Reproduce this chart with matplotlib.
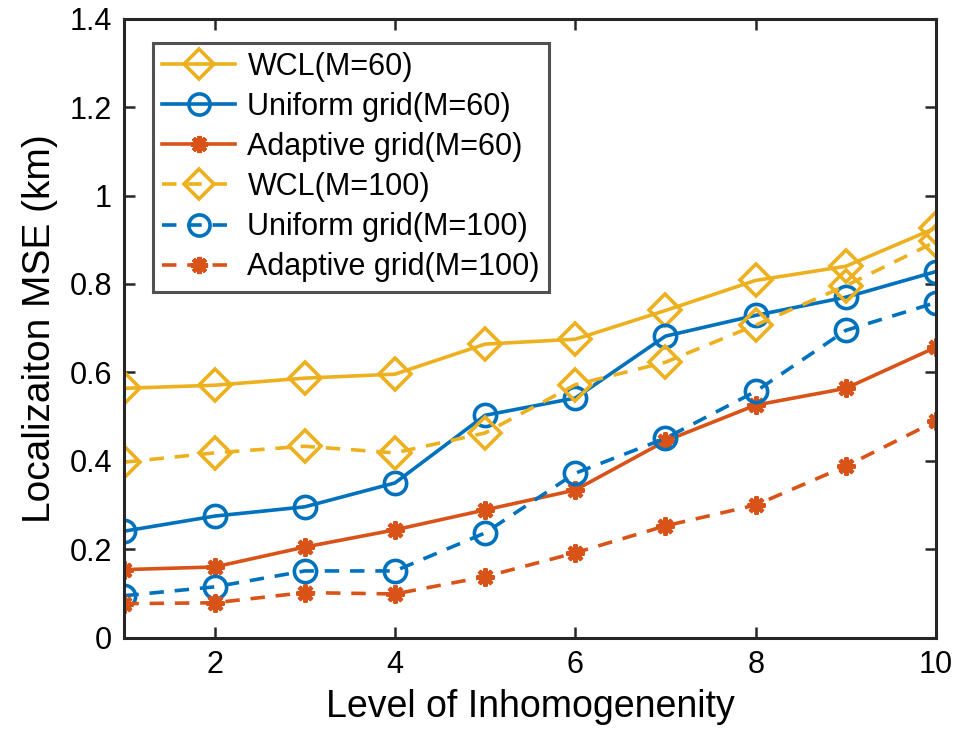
import matplotlib.pyplot as plt

plt.rcParams['font.family'] = ['Liberation Sans', 'DejaVu Sans']

levels = [1, 2, 3, 4, 5, 6, 7, 8, 9, 10]

wcl_60 = [0.564, 0.571, 0.587, 0.596, 0.664, 0.675, 0.740, 0.808, 0.840, 0.927]
uniform_60 = [0.241, 0.275, 0.296, 0.350, 0.503, 0.542, 0.682, 0.729, 0.770, 0.828]
adaptive_60 = [0.154, 0.160, 0.205, 0.244, 0.289, 0.334, 0.445, 0.526, 0.564, 0.657]
wcl_100 = [0.397, 0.418, 0.433, 0.418, 0.463, 0.572, 0.623, 0.707, 0.796, 0.896]
uniform_100 = [0.095, 0.115, 0.151, 0.151, 0.237, 0.372, 0.451, 0.557, 0.695, 0.758]
adaptive_100 = [0.077, 0.079, 0.102, 0.099, 0.138, 0.192, 0.253, 0.300, 0.388, 0.490]

blue = '#0072BD'
orange = '#D95319'
yellow = '#EDB120'

fig = plt.figure(figsize=(9.64, 7.45), dpi=100)
ax = fig.add_axes([0.129, 0.144, 0.842, 0.831])

lw = 2.6
star = (8, 2, 0)
ax.plot(levels, wcl_60, '-', color=yellow, lw=lw, marker='D', ms=16,
        mfc='none', mew=2.6, label='WCL(M=60)')
ax.plot(levels, uniform_60, '-', color=blue, lw=lw, marker='o', ms=16,
        mfc='none', mew=2.6, label='Uniform grid(M=60)')
ax.plot(levels, adaptive_60, '-', color=orange, lw=lw, marker=star, ms=13,
        mew=3, label='Adaptive grid(M=60)')
ax.plot(levels, wcl_100, '--', color=yellow, lw=lw, marker='D', ms=16,
        mfc='none', mew=2.6, dashes=(4, 3), label='WCL(M=100)')
ax.plot(levels, uniform_100, '--', color=blue, lw=lw, marker='o', ms=16,
        mfc='none', mew=2.6, dashes=(4, 3), label='Uniform grid(M=100)')
ax.plot(levels, adaptive_100, '--', color=orange, lw=lw, marker=star, ms=13,
        mew=3, dashes=(4, 3), label='Adaptive grid(M=100)')

ax.set_xlim(1, 10)
ax.set_ylim(0, 1.4)
ax.set_xticks([2, 4, 6, 8, 10])
ax.set_yticks([0, 0.2, 0.4, 0.6, 0.8, 1.0, 1.2, 1.4])
ax.set_yticklabels(['0', '0.2', '0.4', '0.6', '0.8', '1', '1.2', '1.4'])
ax.tick_params(labelsize=22, direction='in', length=8, width=1.8,
               top=True, right=True, pad=9, color='#262626')
for s in ax.spines.values():
    s.set_linewidth(2.2)
    s.set_color('#262626')

ax.set_xlabel('Level of Inhomogenenity', fontsize=27, labelpad=6)
ax.set_ylabel('Localizaiton MSE (km)', fontsize=28, labelpad=8)

leg = ax.legend(loc='upper left', bbox_to_anchor=(0.035, 0.961), fontsize=22,
                frameon=True, fancybox=False, edgecolor='#262626',
                handlelength=2.4, handletextpad=0.4, labelspacing=0.33,
                borderpad=0.3, borderaxespad=0, markerscale=0.95)
leg.get_frame().set_linewidth(2.2)

fig.savefig('out.png', dpi=100)
